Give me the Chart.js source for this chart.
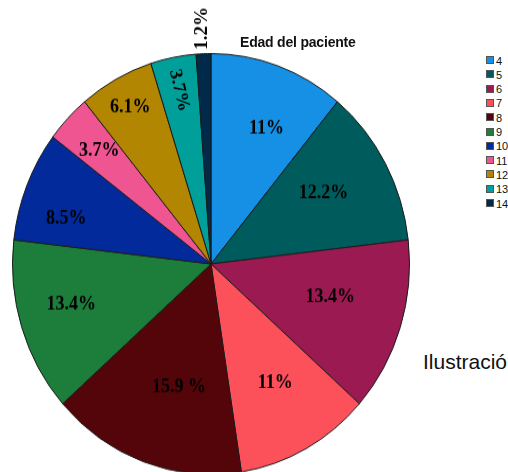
<!DOCTYPE html>
<html><head><meta charset="utf-8">
<script src="https://cdn.jsdelivr.net/npm/chart.js@4.4.0/dist/chart.umd.min.js"></script>
<style>
html,body{margin:0;padding:0;width:508px;height:472px;overflow:hidden;background:#fff;}
#wrap{position:absolute;left:0;top:0;width:422px;height:450px;transform:scaleY(1.06);transform-origin:0 0;}
#title{position:absolute;left:240px;top:34px;font:bold 14px "Liberation Sans",Arial,sans-serif;color:#111;white-space:nowrap;letter-spacing:-0.2px;}
#legend{position:absolute;left:486px;top:56px;width:30px;height:160px;}
.item{position:absolute;left:0;height:8px;white-space:nowrap;font:11px "Liberation Sans",Arial,sans-serif;line-height:8px;color:#111;}
.box{position:absolute;left:0;top:0;width:6px;height:6px;border:1px solid #555;}
.lbl{position:absolute;left:10px;top:0.5px;}
#note{position:absolute;left:423px;top:350px;font:21px "Liberation Sans",Arial,sans-serif;color:#111;white-space:nowrap;}
</style>
</head><body>
<div id="wrap"><canvas id="c"></canvas></div>
<div id="title">Edad del paciente</div>
<div id="legend"></div>
<div id="note">Ilustración</div>
<script>
const ages = ['4','5','6','7','8','9','10','11','12','13','14'];
const percents = [11, 12.2, 13.4, 11, 15.9, 13.4, 8.5, 3.7, 6.1, 3.7, 1.2];
const pctLabels = ['11%','12.2%','13.4%','11%','15.9 %','13.4%','8.5%','3.7%','6.1%','3.7%','1.2%'];
const colors = ['#1690E5','#005C5C','#9B1A52','#FC505A','#540509','#1C7E3A','#022A9A','#EE5591','#B28600','#009F9A','#00294A'];
const labelRadius = [0.70, 0.66, 0.62, 0.65, 0.61, 0.73, 0.76, 0.78, 0.85, 0.84, 1.12];
const labelAngleShift = [3.8, -2.3, -3, -1.3, -4.4, 2.3, -5.5, 0, 0, 0, 0];
const labelRotation = [0, 0, 0, 0, 0, 0, 0, 0, 0, 76, -90];

// legend
const leg = document.getElementById('legend');
ages.forEach((a, i) => {
  const it = document.createElement('div');
  it.className = 'item';
  it.style.top = (i * 14.3) + 'px';
  const b = document.createElement('div');
  b.className = 'box';
  b.style.background = colors[i];
  const t = document.createElement('div');
  t.className = 'lbl';
  t.textContent = a;
  it.appendChild(b); it.appendChild(t);
  leg.appendChild(it);
});

const labelPlugin = {
  id: 'pctLabels',
  afterDatasetsDraw(chart) {
    const ctx = chart.ctx;
    const meta = chart.getDatasetMeta(0);
    ctx.save();
    ctx.fillStyle = '#000';
    ctx.font = 'bold 18px "Liberation Serif", "Times New Roman", serif';
    ctx.textAlign = 'center';
    ctx.textBaseline = 'middle';
    meta.data.forEach((arc, i) => {
      const p = arc.getProps(['x','y','startAngle','endAngle','outerRadius'], true);
      const mid = (p.startAngle + p.endAngle) / 2 + labelAngleShift[i] * Math.PI / 180;
      const r = p.outerRadius * labelRadius[i];
      const x = p.x + Math.cos(mid) * r;
      const y = p.y + Math.sin(mid) * r;
      ctx.save();
      ctx.translate(x, y);
      ctx.rotate(labelRotation[i] * Math.PI / 180);
      ctx.fillText(pctLabels[i], 0, 0);
      ctx.restore();
    });
    ctx.restore();
  }
};

new Chart(document.getElementById('c'), {
  type: 'pie',
  data: {
    labels: ages,
    datasets: [{
      data: percents,
      backgroundColor: colors,
      borderColor: '#1a1a1a',
      borderWidth: 1
    }]
  },
  options: {
    responsive: true,
    maintainAspectRatio: false,
    devicePixelRatio: 1,
    animation: false,
    layout: { padding: { left: 12, right: 12, top: 50, bottom: 2 } },
    plugins: { legend: { display: false }, tooltip: { enabled: false }, title: { display: false } }
  },
  plugins: [labelPlugin]
});
</script>
</body></html>
